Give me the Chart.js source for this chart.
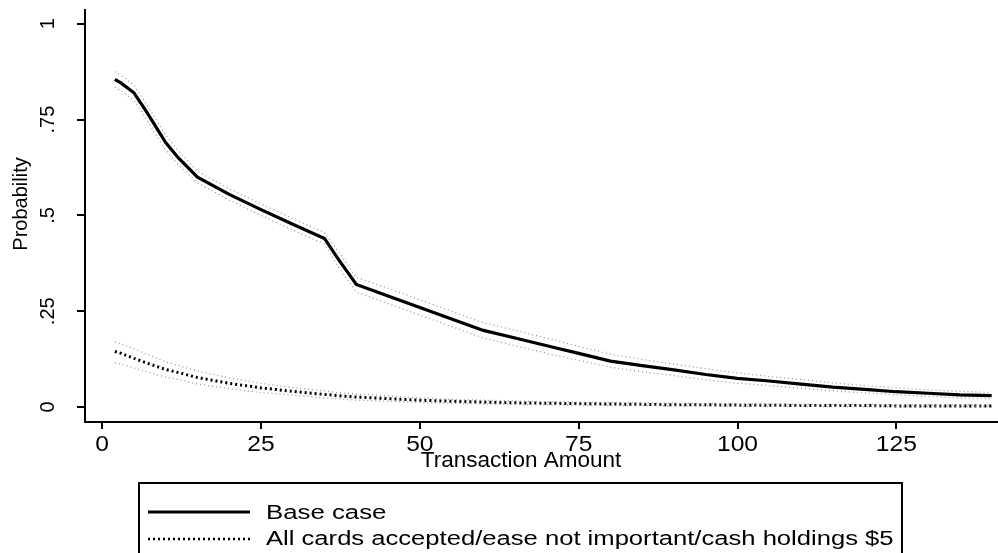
<!DOCTYPE html>
<html>
<head>
<meta charset="utf-8">
<script src="https://cdn.jsdelivr.net/npm/chart.js@4/dist/chart.umd.min.js"></script>
<style>
  html, body { margin: 0; padding: 0; background: #fff; }
  #wrap { position: relative; width: 998px; height: 553px; }
</style>
</head>
<body>
<div id="wrap"><canvas id="chart" width="998" height="553"></canvas></div>
<script>
// Transaction amounts where the predicted probabilities are read
const amounts = [2, 3, 5, 7, 10, 12, 15, 20, 25, 30, 35, 37, 40, 45, 50, 55, 60, 65, 70, 75,
  80, 85, 90, 95, 100, 105, 110, 115, 120, 125, 130, 135, 140];

// Base case: predicted probability and confidence bounds
const baseCase = [0.855, 0.845, 0.82, 0.77, 0.69, 0.65, 0.60, 0.555, 0.515, 0.477, 0.44, 0.39, 0.32,
  0.29, 0.26, 0.23, 0.20, 0.18, 0.16, 0.14, 0.12, 0.108, 0.097, 0.085, 0.075, 0.068, 0.06, 0.052,
  0.046, 0.04, 0.036, 0.032, 0.03];
const baseUpper = [0.875, 0.865, 0.84, 0.79, 0.71, 0.668, 0.615, 0.57, 0.53, 0.492, 0.455, 0.41, 0.338,
  0.31, 0.28, 0.25, 0.22, 0.2, 0.18, 0.158, 0.138, 0.124, 0.112, 0.1, 0.089, 0.08, 0.072, 0.063,
  0.056, 0.05, 0.045, 0.041, 0.038];
const baseLower = [0.835, 0.825, 0.8, 0.75, 0.67, 0.632, 0.585, 0.54, 0.5, 0.462, 0.425, 0.37, 0.3,
  0.27, 0.24, 0.21, 0.18, 0.16, 0.14, 0.122, 0.104, 0.092, 0.082, 0.071, 0.062, 0.056, 0.049, 0.042,
  0.037, 0.032, 0.028, 0.024, 0.022];

// All cards accepted / ease not important / cash holdings $5
const allCards = [0.145, 0.14, 0.127, 0.115, 0.098, 0.09, 0.077, 0.062, 0.05, 0.041, 0.033, 0.03, 0.026,
  0.022, 0.018, 0.015, 0.013, 0.011, 0.01, 0.009, 0.008, 0.007, 0.006, 0.006, 0.005, 0.005, 0.004,
  0.004, 0.004, 0.003, 0.003, 0.003, 0.003];
const allCardsUpper = [0.17, 0.165, 0.152, 0.138, 0.118, 0.108, 0.094, 0.076, 0.062, 0.051, 0.042, 0.038,
  0.034, 0.029, 0.024, 0.02, 0.018, 0.016, 0.014, 0.013, 0.012, 0.011, 0.01, 0.009, 0.008, 0.008,
  0.007, 0.007, 0.007, 0.006, 0.006, 0.006, 0.006];
const allCardsLower = [0.115, 0.112, 0.102, 0.092, 0.078, 0.072, 0.06, 0.048, 0.038, 0.031, 0.024, 0.022,
  0.018, 0.015, 0.012, 0.01, 0.008, 0.007, 0.006, 0.005, 0.004, 0.004, 0.003, 0.003, 0.002, 0.002,
  0.002, 0.001, 0.001, 0.001, 0.001, 0.001, 0.001];

const xTicks = [0, 25, 50, 75, 100, 125];
const yTicks = [0, 0.25, 0.5, 0.75, 1];
const yTickLabels = ['0', '.25', '.5', '.75', '1'];
const xTitle = 'Transaction Amount';
const yTitle = 'Probability';
const legendLabels = ['Base case', 'All cards accepted/ease not important/cash holdings $5'];

const FONT = "'Liberation Sans', Arial, sans-serif";

const toPoints = vals => vals.map((v, i) => ({ x: amounts[i], y: v }));

const bandStyle = {
  borderColor: '#999',
  borderWidth: 1.3,
  borderDash: [1, 3],
  pointRadius: 0,
  tension: 0,
  fill: false
};

// text stretched sideways like the scanned Stata graph
function stretchText(ctx, text, x, y, size, sx, align) {
  ctx.save();
  ctx.font = size + 'px ' + FONT;
  ctx.textAlign = align || 'center';
  ctx.translate(x, y);
  ctx.scale(sx, 1);
  ctx.fillText(text, 0, 0);
  ctx.restore();
}

// Stata-like text: rotated y labels, axis titles and boxed legend
const stataText = {
  id: 'stataText',
  afterDraw(chart) {
    const ctx = chart.ctx;
    const { x, y } = chart.scales;
    ctx.save();
    ctx.fillStyle = '#000';
    ctx.textBaseline = 'middle';

    xTicks.forEach(v => stretchText(ctx, String(v), x.getPixelForValue(v), 445, 22, 1.12));

    ctx.font = '20px ' + FONT;
    ctx.textAlign = 'center';
    yTicks.forEach((v, i) => {
      ctx.save();
      ctx.translate(48, y.getPixelForValue(v));
      ctx.rotate(-Math.PI / 2);
      ctx.fillText(yTickLabels[i], 0, 0);
      ctx.restore();
    });

    ctx.save();
    ctx.translate(21, 204);
    ctx.rotate(-Math.PI / 2);
    ctx.fillText(yTitle, 0, 0);
    ctx.restore();

    stretchText(ctx, xTitle, 521, 461, 22.5, 1);

    // legend box
    ctx.strokeStyle = '#000';
    ctx.lineWidth = 2;
    ctx.strokeRect(139, 483, 763, 90);

    ctx.beginPath();
    ctx.lineWidth = 3;
    ctx.moveTo(148, 512);
    ctx.lineTo(250, 512);
    ctx.stroke();
    stretchText(ctx, legendLabels[0], 266, 513, 20, 1.29, 'left');

    ctx.beginPath();
    ctx.setLineDash([2, 3]);
    ctx.lineWidth = 2.5;
    ctx.moveTo(148, 539);
    ctx.lineTo(250, 539);
    ctx.stroke();
    ctx.setLineDash([]);
    stretchText(ctx, legendLabels[1], 266, 539, 20, 1.28, 'left');
    ctx.restore();
  }
};

new Chart(document.getElementById('chart'), {
  type: 'line',
  data: {
    datasets: [
      { ...bandStyle, data: toPoints(baseUpper) },
      { ...bandStyle, data: toPoints(baseLower) },
      { ...bandStyle, data: toPoints(allCardsUpper) },
      { ...bandStyle, data: toPoints(allCardsLower) },
      {
        label: legendLabels[1],
        data: toPoints(allCards),
        borderColor: '#000',
        borderWidth: 3,
        borderDash: [2, 3],
        pointRadius: 0,
        tension: 0
      },
      {
        label: legendLabels[0],
        data: toPoints(baseCase),
        borderColor: '#000',
        borderWidth: 3.2,
        pointRadius: 0,
        tension: 0
      }
    ]
  },
  options: {
    responsive: false,
    animation: false,
    layout: { padding: { top: 10, right: 0, bottom: 0, left: 0 } },
    plugins: {
      legend: { display: false },
      tooltip: { enabled: false }
    },
    scales: {
      x: {
        type: 'linear',
        min: -2.7,
        max: 141,
        afterBuildTicks: s => { s.ticks = xTicks.map(v => ({ value: v })); },
        afterFit: s => { s.height = 131; },
        border: { display: true, color: '#000', width: 2 },
        grid: { drawOnChartArea: false, drawTicks: true, tickLength: 7, color: '#000', lineWidth: 2 },
        ticks: { display: false }
      },
      y: {
        type: 'linear',
        min: -0.039,
        max: 1.036,
        afterBuildTicks: s => { s.ticks = yTicks.map(v => ({ value: v })); },
        afterFit: s => { s.width = 85; },
        border: { display: true, color: '#000', width: 2 },
        grid: { drawOnChartArea: false, drawTicks: true, tickLength: 8, color: '#000', lineWidth: 2 },
        ticks: { display: false }
      }
    }
  },
  plugins: [stataText]
});
</script>
</body>
</html>
